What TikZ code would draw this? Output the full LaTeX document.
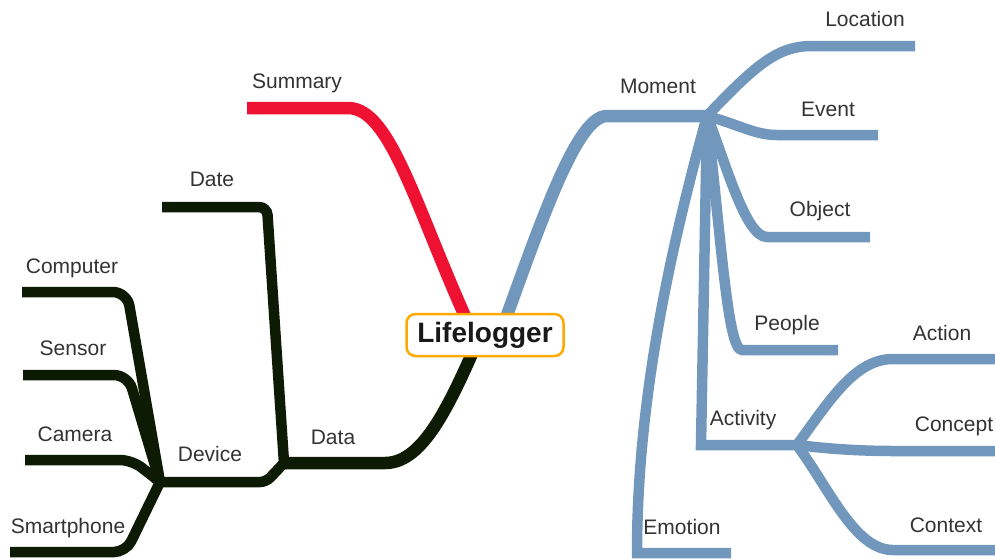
\documentclass[tikz,border=0pt]{standalone}
\usepackage{fontspec}
\setmainfont{Liberation Sans}
\usetikzlibrary{backgrounds}

\definecolor{mapred}{RGB}{238,17,49}
\definecolor{mapblue}{RGB}{114,151,189}
\definecolor{mapdark}{RGB}{13,27,5}
\definecolor{maporange}{RGB}{255,168,0}
\definecolor{maptext}{RGB}{51,51,51}

\begin{document}
\begin{tikzpicture}
    [
        x=1pt, y=-1pt,
        root/.style={draw=maporange, line width=2.5pt, rounded corners=9pt, fill=white,
            minimum width=157pt, minimum height=42pt, inner sep=0pt,
            font=\fontsize{28}{33}\selectfont\bfseries, text=black!90},
        tag/.style={text=maptext, font=\fontsize{21}{25}\selectfont, inner sep=0pt,
            text height=15pt, text depth=0pt},
        mainbr/.style={line width=12.5pt},
        subbr/.style={line width=10.5pt},
    ]
    \useasboundingbox (0,0) rectangle (995,558);

    % centre
    \node (root) at (485,335) [root] {Lifelogger};

    % ends and bends
    \coordinate (s1)  at (247,108);
    \coordinate (s0)  at (348,108);
    \coordinate (m0)  at (607,116);
    \coordinate (hub) at (707,116);
    \coordinate (l0)  at (813,46);
    \coordinate (l1)  at (915,46);
    \coordinate (e0)  at (777,135);
    \coordinate (e1)  at (878,135);
    \coordinate (o0)  at (767,237);
    \coordinate (o1)  at (870,237);
    \coordinate (p0)  at (742,350);
    \coordinate (p1)  at (838,350);
    \coordinate (a0)  at (701,445);
    \coordinate (ah)  at (797,445);
    \coordinate (em0) at (637,553);
    \coordinate (em1) at (731,553);
    \coordinate (an0) at (893,359);
    \coordinate (an1) at (995,359);
    \coordinate (co0) at (895,451);
    \coordinate (co1) at (995,451);
    \coordinate (cx0) at (893,550);
    \coordinate (cx1) at (995,550);
    \coordinate (d0)  at (385,463);
    \coordinate (dj)  at (284,463);
    \coordinate (da0) at (267,207);
    \coordinate (da1) at (162,207);
    \coordinate (dv0) at (266,482);
    \coordinate (dh)  at (160,482);
    \coordinate (cp0) at (127,292);
    \coordinate (cp1) at (22,292);
    \coordinate (se0) at (128,375);
    \coordinate (se1) at (23,375);
    \coordinate (ca0) at (132,460);
    \coordinate (ca1) at (25,460);
    \coordinate (sm0) at (126,552);
    \coordinate (sm1) at (10,552);

    % labels
    \node (summary)    at (297,81)  [tag] {Summary};
    \node (moment)     at (658,86)  [tag] {Moment};
    \node (location)   at (865,19)  [tag] {Location};
    \node (event)      at (828,109) [tag] {Event};
    \node (object)     at (820,209) [tag] {Object};
    \node (people)     at (787,323) [tag] {People};
    \node (activity)   at (743,418) [tag] {Activity};
    \node (emotion)    at (682,527) [tag] {Emotion};
    \node (action)     at (942,333) [tag] {Action};
    \node (concept)    at (954,424) [tag] {Concept};
    \node (context)    at (946,525) [tag] {Context};
    \node (data)       at (333,437) [tag] {Data};
    \node (date)       at (212,179) [tag] {Date};
    \node (device)     at (210,454) [tag] {Device};
    \node (computer)   at (72,266)  [tag] {Computer};
    \node (sensor)     at (73,348)  [tag] {Sensor};
    \node (camera)     at (75,434)  [tag] {Camera};
    \node (smartphone) at (68,526)  [tag] {Smartphone};

    \begin{scope}[on background layer]
    % red
    \draw [mainbr, draw=mapred] ([xshift=-18pt,yshift=-8pt]root.north)
        .. controls (415,205) and (390,108) .. (s0) -- (s1);

    % blue
    \draw [mainbr, draw=mapblue] ([xshift=20pt,yshift=-8pt]root.north)
        .. controls (545,210) and (578,116) .. (m0) -- (hub);
    \begin{scope}[subbr, draw=mapblue]
    \draw (hub) .. controls (760,60) and (780,46) .. (l0) -- (l1);
    \draw (hub) .. controls (740,125) and (755,135) .. (e0) -- (e1);
    \draw (hub) .. controls (725,160) and (745,237) .. (o0) -- (o1);
    \draw (hub) .. controls (722,250) and (728,350) .. (p0) -- (p1);
    \draw (hub) -- (a0) -- (ah);
    \draw (hub) .. controls (670,250) and (637,400) .. (em0) -- (em1);
    \draw (ah) .. controls (830,400) and (855,359) .. (an0) -- (an1);
    \draw (ah) .. controls (830,449) and (860,451) .. (co0) -- (co1);
    \draw (ah) .. controls (830,490) and (855,550) .. (cx0) -- (cx1);
    \end{scope}

    % dark
    \draw [mainbr, draw=mapdark] ([xshift=-11pt,yshift=8pt]root.south)
        .. controls (445,415) and (420,463) .. (d0) -- (dj);
    \begin{scope}[subbr, draw=mapdark]
    \draw [rounded corners=8pt] (dj) -- (da0) -- (da1);
    \draw [rounded corners=6pt] (dj) -- (dv0) -- (dh);
    \draw [rounded corners=14pt] (cp1) -- (cp0) -- (dh);
    \draw [rounded corners=14pt] (se1) -- (se0) -- (dh);
    \draw [rounded corners=12pt] (ca1) -- (ca0) -- (dh);
    \draw [rounded corners=12pt] (sm1) -- (sm0) -- (dh);
    \end{scope}
    \end{scope}

\end{tikzpicture}
\end{document}
